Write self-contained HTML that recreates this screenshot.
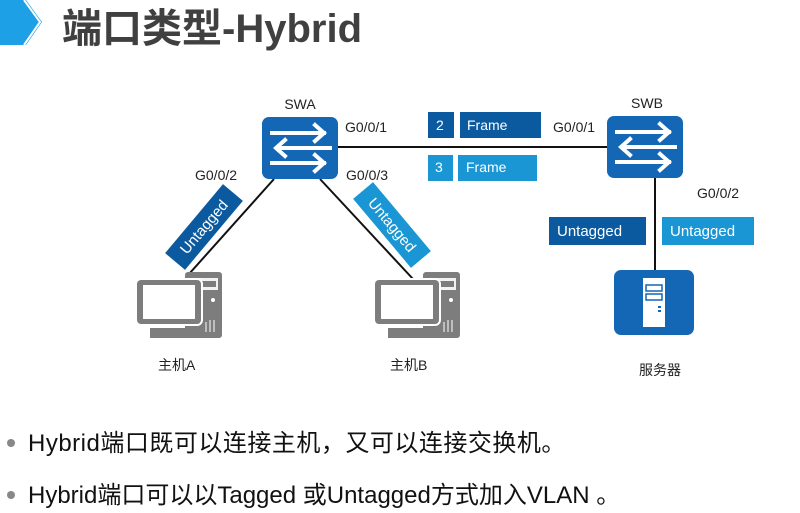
<!DOCTYPE html>
<html><head><meta charset="utf-8"><style>
body{margin:0;width:800px;height:513px;background:#fff;overflow:hidden;font-family:"Liberation Sans","Noto Sans CJK SC",sans-serif;}
</style></head><body>
<svg width="800" height="513" viewBox="0 0 800 513" xmlns="http://www.w3.org/2000/svg" style="position:absolute;left:0;top:0">
<defs>
<g id="pc">
<rect x="49" y="0" width="37" height="66" rx="3" fill="#7d7d7d"/>
<rect x="53" y="6" width="29" height="12" fill="#fff" opacity="0.9"/>
<rect x="55" y="9" width="25" height="6" fill="#7d7d7d"/>
<circle cx="77" cy="28" r="2" fill="#fff"/>
<g stroke="#fff" stroke-width="1"><line x1="70" y1="50" x2="70" y2="60"/><line x1="74" y1="48" x2="74" y2="60"/><line x1="78" y1="48" x2="78" y2="60"/></g>
<rect x="14" y="56" width="42" height="10" fill="#7d7d7d"/>
<rect x="0" y="7" width="66" height="46" rx="5" fill="#7d7d7d" stroke="#fff" stroke-width="2"/>
<rect x="7" y="13" width="52" height="34" fill="#fff"/>
</g>
<g id="sw">
<rect x="0" y="0" width="76" height="62" rx="7" fill="#1467b5"/>
<g stroke="#fff" stroke-width="4" fill="none" stroke-linecap="square">
<line x1="10" y1="16" x2="62" y2="16"/><polyline points="53,8 62,16 53,24"/>
<line x1="16" y1="31" x2="68" y2="31"/><polyline points="23,23 14,31 23,39"/>
<line x1="10" y1="46" x2="62" y2="46"/><polyline points="53,38 62,46 53,54"/>
</g>
</g>
</defs>
<path d="M0 0 H26 L42 22 L26 45 H0 Z" fill="#1ea0e6"/>
<path d="M24 0 L40 22 L24 45" fill="none" stroke="#fff" stroke-width="2"/>
<text x="62" y="42" font-size="40" font-weight="bold" fill="#404040">端口类型-Hybrid</text>

<g stroke="#111" stroke-width="2">
<line x1="338" y1="147" x2="607" y2="147"/>
<line x1="655" y1="178" x2="655" y2="270"/>
<line x1="274" y1="179" x2="189" y2="274"/>
<line x1="320" y1="179" x2="413" y2="279"/>
</g>
<use href="#sw" x="262" y="117"/>
<use href="#sw" x="607" y="116"/>
<text x="300" y="109" font-size="14" text-anchor="middle" fill="#222">SWA</text>
<text x="647" y="108" font-size="14" text-anchor="middle" fill="#222">SWB</text>
<g font-size="14" fill="#222">
<text x="345" y="132">G0/0/1</text>
<text x="346" y="180">G0/0/3</text>
<text x="195" y="180">G0/0/2</text>
<text x="553" y="132">G0/0/1</text>
<text x="697" y="198">G0/0/2</text>
</g>
<rect x="428" y="112" width="26" height="26" fill="#0b5aa0"/>
<rect x="460" y="112" width="81" height="26" fill="#0b5aa0"/>
<rect x="428" y="155" width="25" height="26" fill="#1a96d4"/>
<rect x="458" y="155" width="79" height="26" fill="#1a96d4"/>
<g font-size="14" fill="#fff">
<text x="436" y="130">2</text><text x="467" y="130">Frame</text>
<text x="435" y="172">3</text><text x="466" y="172">Frame</text>
</g>
<rect x="549" y="217" width="97" height="28" fill="#0b5aa0"/>
<rect x="662" y="217" width="92" height="28" fill="#1a96d4"/>
<text x="557" y="236" font-size="15" fill="#fff">Untagged</text>
<text x="670" y="236" font-size="15" fill="#fff">Untagged</text>
<g transform="translate(204,227) rotate(-50)">
<rect x="-45" y="-13" width="90" height="26" fill="#0b5aa0"/>
<text x="0" y="5" font-size="15" fill="#fff" text-anchor="middle">Untagged</text>
</g>
<g transform="translate(392,225) rotate(50)">
<rect x="-45" y="-13" width="90" height="26" fill="#1a96d4"/>
<text x="0" y="5" font-size="15" fill="#fff" text-anchor="middle">Untagged</text>
</g>
<use href="#pc" x="136" y="272"/>
<use href="#pc" x="374" y="272"/>
<rect x="614" y="270" width="80" height="65" rx="7" fill="#1467b5"/>
<rect x="643" y="278" width="22" height="49" fill="#fff"/>
<rect x="646" y="285" width="16" height="6" fill="none" stroke="#1467b5" stroke-width="1.5"/>
<rect x="646" y="294" width="16" height="6" fill="none" stroke="#1467b5" stroke-width="1.5"/>
<rect x="658" y="306" width="3" height="2" fill="#1467b5"/><rect x="658" y="310" width="3" height="2" fill="#1467b5"/>
<g font-size="14" fill="#222">
<text x="158" y="370">主机A</text>
<text x="390" y="370">主机B</text>
<text x="639" y="375">服务器</text>
</g>
<circle cx="11" cy="443" r="4" fill="#888"/>
<circle cx="11" cy="495" r="4" fill="#888"/>
<text x="28" y="451" font-size="24" letter-spacing="0.5" fill="#111">Hybrid端口既可以连接主机，又可以连接交换机。</text>
<text x="28" y="503" font-size="24" fill="#111">Hybrid端口可以以Tagged 或Untagged方式加入VLAN 。</text>
</svg>
</body></html>
